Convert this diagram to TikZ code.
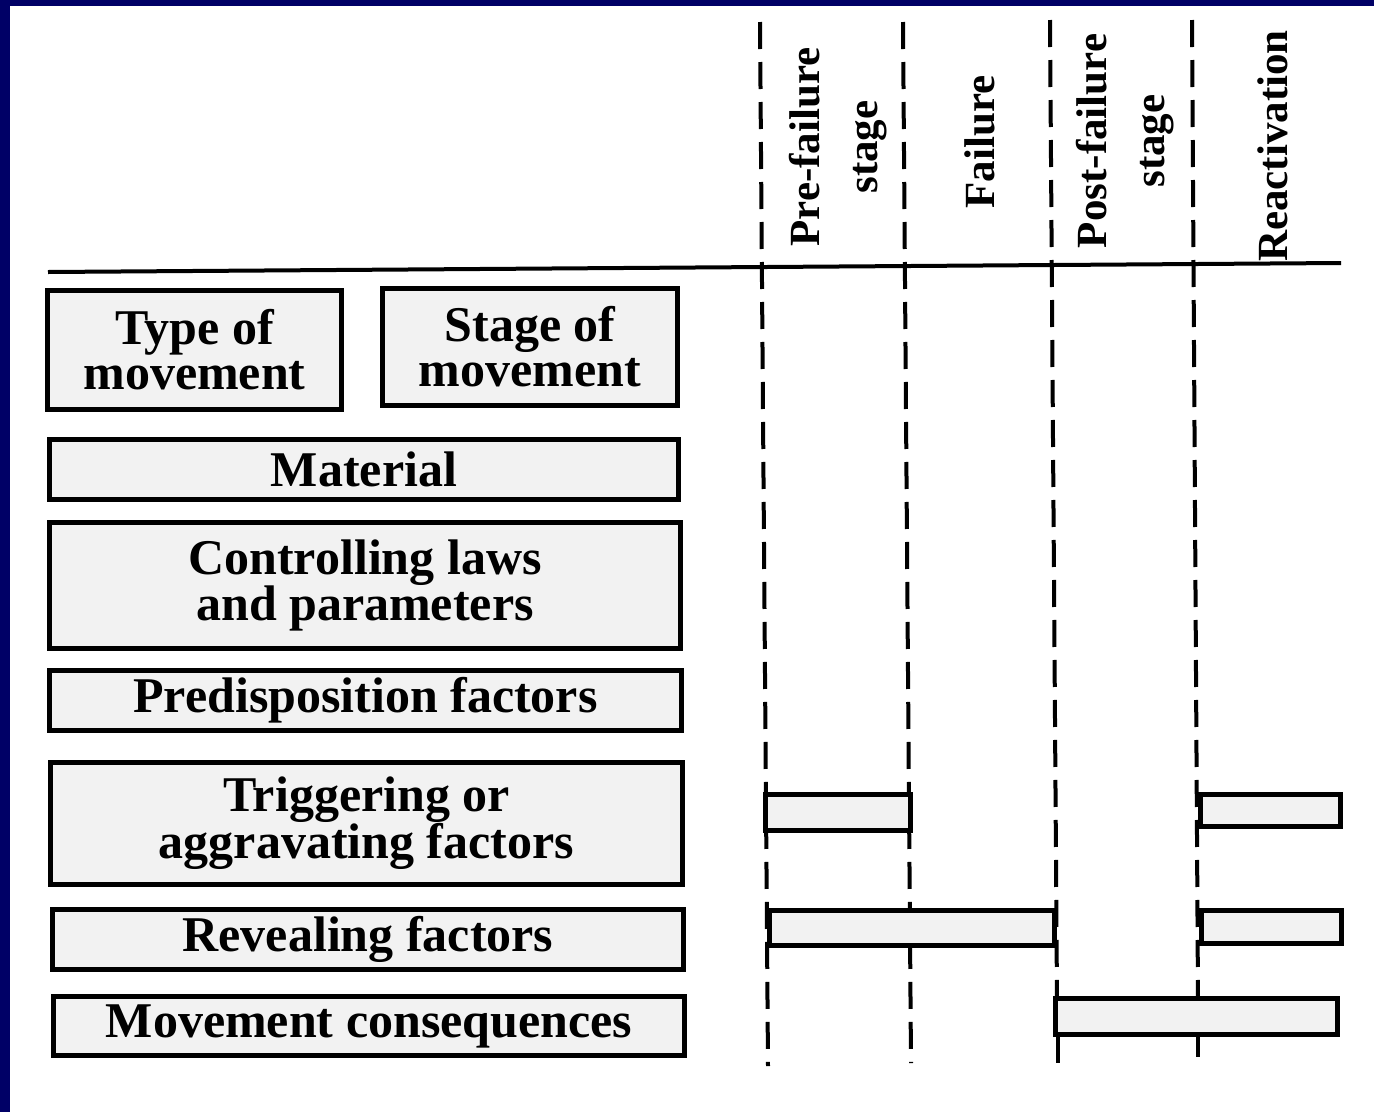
\documentclass[tikz,border=0pt]{standalone}
\usepackage{fontspec}
\setmainfont{Liberation Serif}
\definecolor{navy}{RGB}{0,0,102}
\definecolor{boxfill}{gray}{0.95}
\begin{document}
\begin{tikzpicture}[x=1pt,y=-1pt,
  box/.style={draw=black, line width=5pt, fill=boxfill, inner sep=0pt,
    align=center, font=\bfseries\fontsize{50}{45}\selectfont},
  bar/.style={draw=black, line width=5pt, fill=boxfill, inner sep=0pt},
  stagelabel/.style={rotate=90, align=center, inner sep=0pt,
    font=\bfseries\fontsize{43}{58}\selectfont},
  divider/.style={line width=4pt, dash pattern=on 27pt off 13pt},
  stub/.style={line width=4pt}]
\useasboundingbox (0,0) rectangle (1374,1112);
% page frame
\fill[white] (0,0) rectangle (1374,1112);
\fill[navy] (0,0) rectangle (1374,6);
\fill[navy] (0,0) rectangle (10,1112);

% time axis
\coordinate (axisL) at (48,272);
\coordinate (axisR) at (1341,263);
\draw[line width=4pt] (axisL) -- (axisR);

% stage dividers
\coordinate (d1t) at (760,22);  \coordinate (d1b) at (768,1066);
\coordinate (d2t) at (903,22);  \coordinate (d2b) at (911,1063);
\coordinate (d3t) at (1050,20); \coordinate (d3b) at (1057,1000);
\coordinate (d4t) at (1192,20); \coordinate (d4b) at (1198,1000);
\draw[divider] (d1t) -- (d1b);
\draw[divider] (d2t) -- (d2b);
\draw[divider] (d3t) -- (d3b);
\draw[divider] (d4t) -- (d4b);

% stage headings
\node[stagelabel] (pre)  at (838,147) {Pre-failure\\stage};
\node[stagelabel] (fail) at (980,142) {Failure};
\node[stagelabel] (post) at (1125,141) {Post-failure\\stage};
\node[stagelabel] (react) at (1273,146) {Reactivation};

% factor boxes
\node[box, minimum width=294, minimum height=119] (type)    at (194.5,350) {Type of\\movement};
\node[box, minimum width=295, minimum height=117] (stage)   at (530,347)   {Stage of\\movement};
\node[box, minimum width=629, minimum height=60]  (mat)     at (364,469.5) {Material};
\node[box, minimum width=631, minimum height=126] (control) at (365,585.5) {Controlling laws\\and parameters};
\node[box, minimum width=632, minimum height=60]  (predis)  at (365.5,700.5) {Predisposition factors};
\node[box, minimum width=632, minimum height=122] (trigger) at (366.5,823.5) {Triggering or\\aggravating factors};
\node[box, minimum width=631, minimum height=60]  (reveal)  at (368,939.5) {Revealing factors};
\node[box, minimum width=631, minimum height=59]  (conseq)  at (369,1026)  {Movement consequences};

% activity bars
\node[bar, minimum width=145, minimum height=36] (tb1) at (838,812.5) {};
\node[bar, minimum width=140, minimum height=32] (tb2) at (1270.5,810.5) {};
\node[bar, minimum width=285, minimum height=35] (rb1) at (912,928) {};
\node[bar, minimum width=140, minimum height=33] (rb2) at (1271.5,927) {};
\node[bar, minimum width=282, minimum height=36] (cb)  at (1196.5,1016.5) {};

% divider ends below the consequences bar
\coordinate (s3) at (1058,1063);
\coordinate (s4) at (1198,1057);
\draw[stub] (cb.south west -| s3) -- (s3);
\draw[stub] (cb.south -| s4) -- (s4);
\end{tikzpicture}
\end{document}
